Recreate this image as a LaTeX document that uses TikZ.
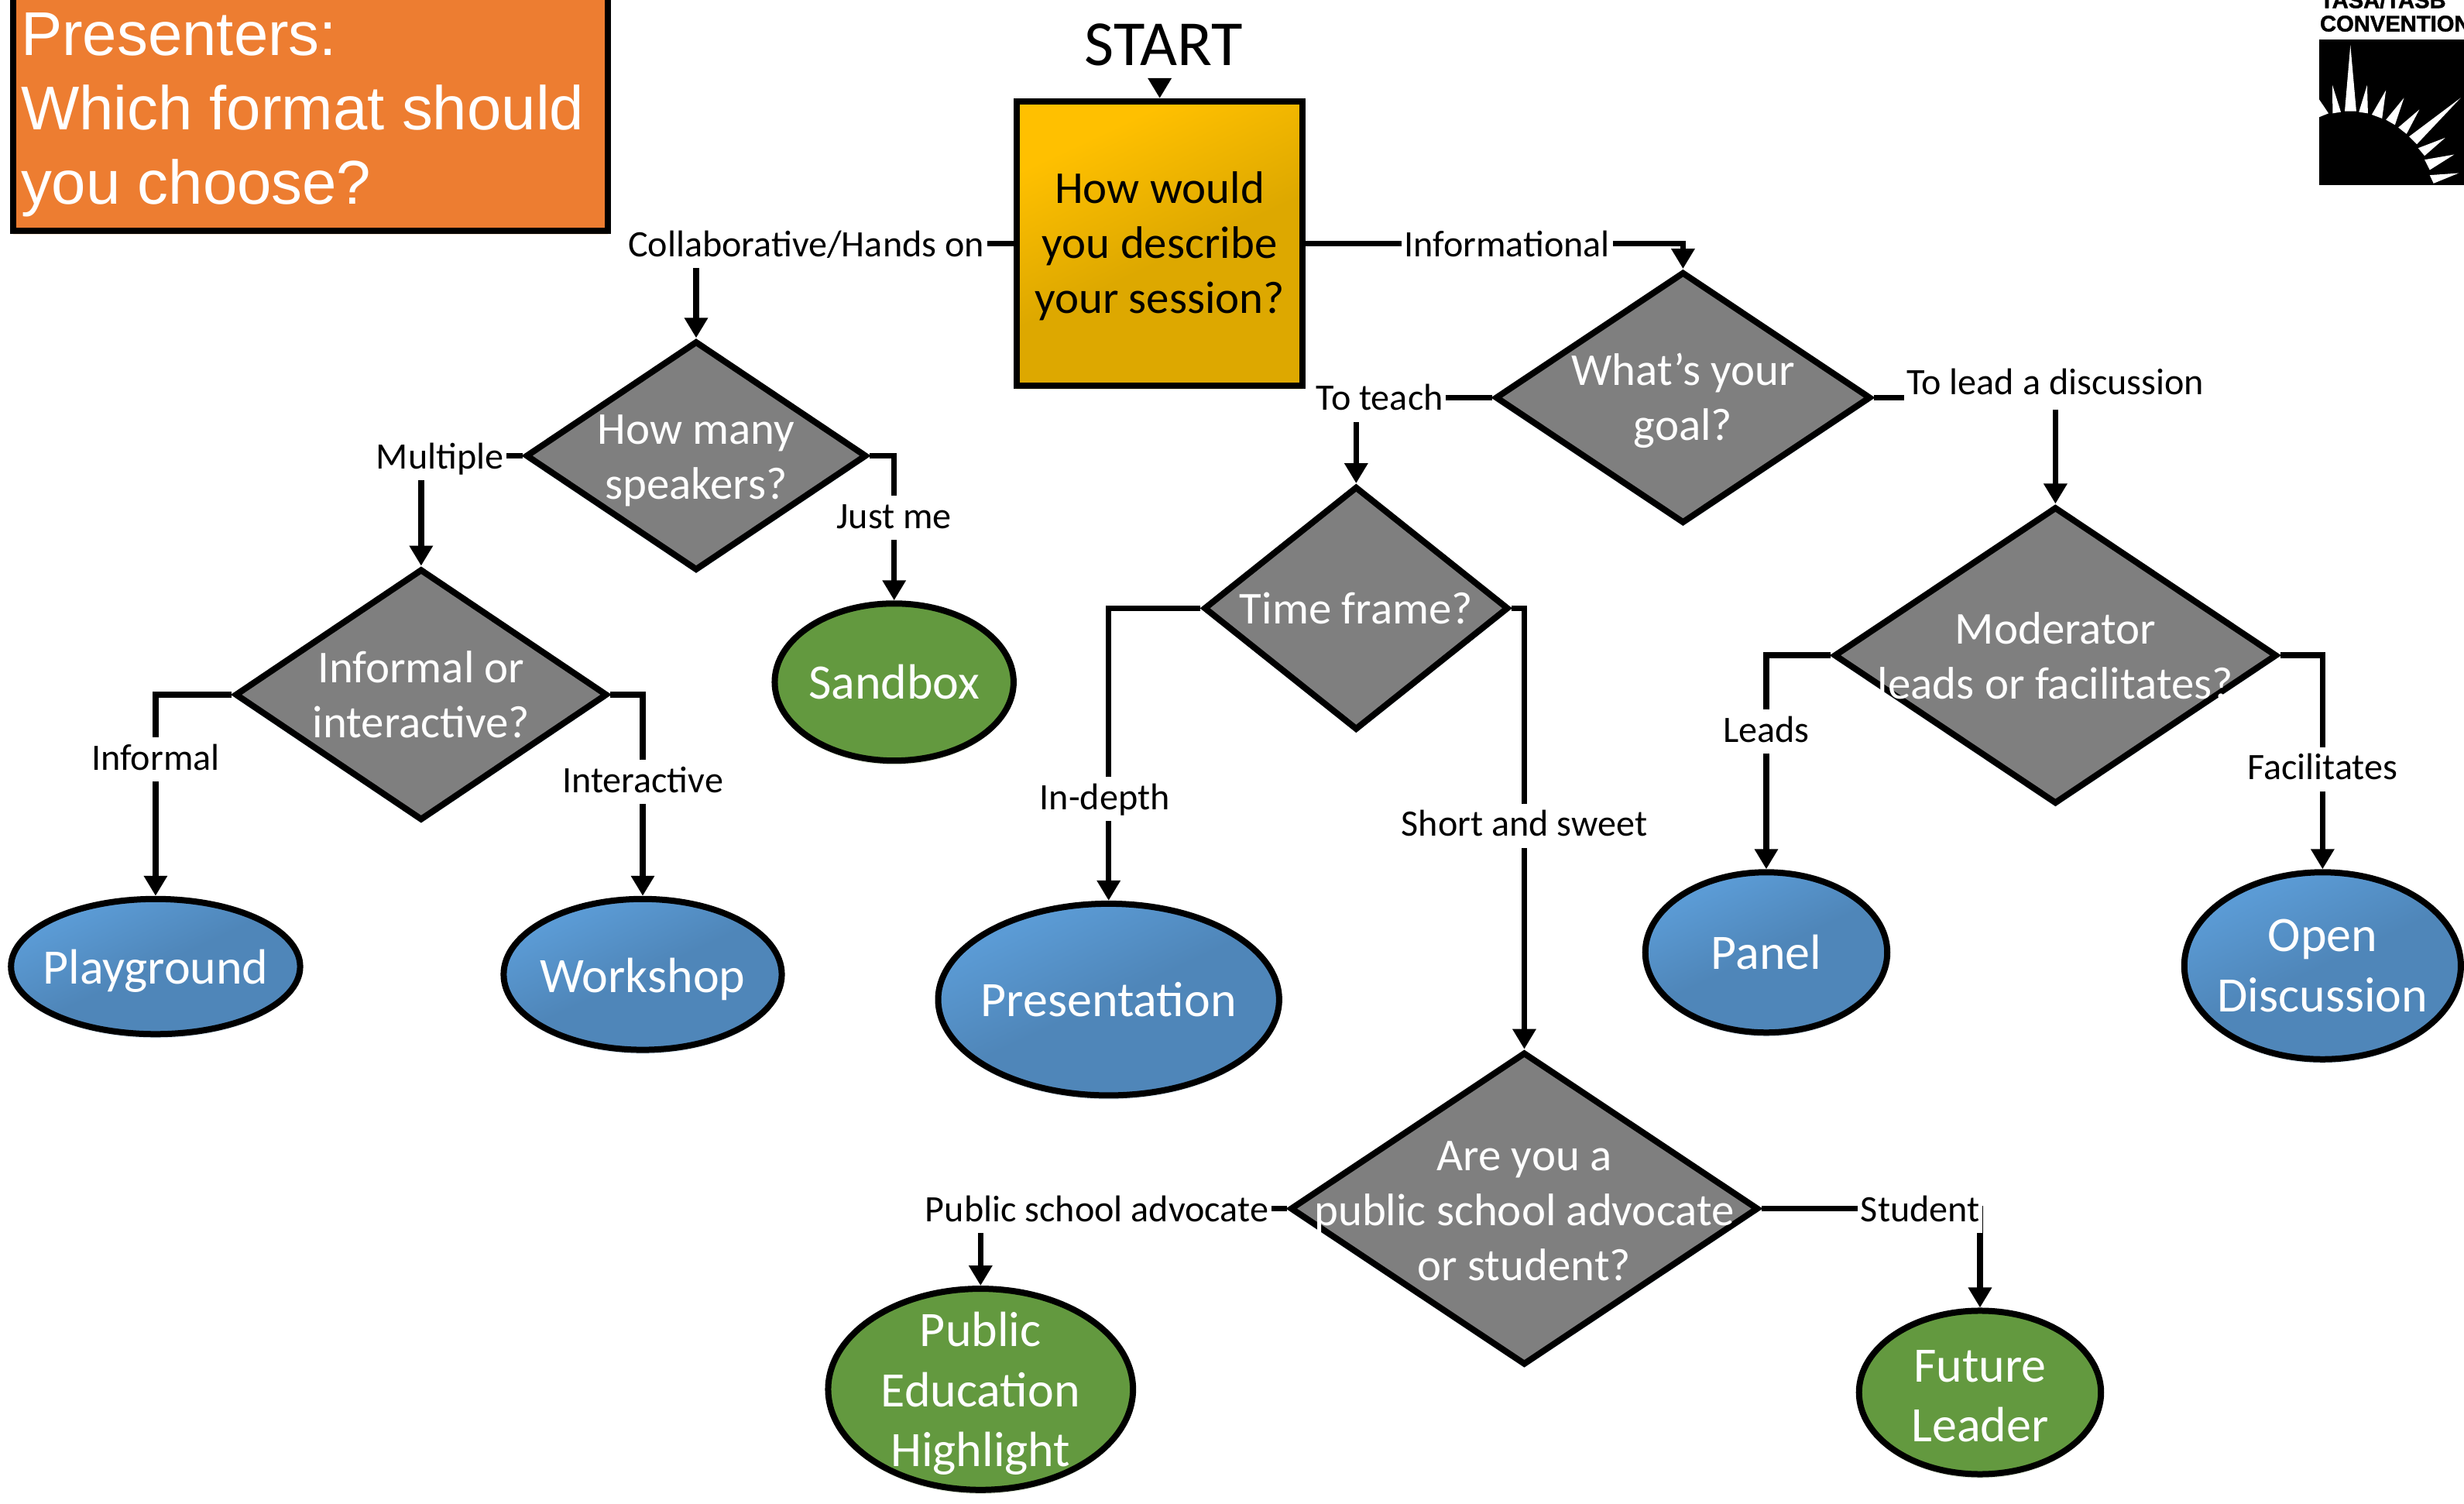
\documentclass[tikz,border=0pt]{standalone}
\usepackage{fontspec}
\setmainfont{Carlito}
\newfontfamily\arialfont{Liberation Sans}
\newfontfamily\logofont[FakeBold=1.5]{Liberation Sans Bold}
\usetikzlibrary{arrows.meta,shapes.geometric,shadows}
\definecolor{goldA}{HTML}{FFC000}
\definecolor{goldB}{HTML}{DDA800}
\definecolor{blueA}{HTML}{5B9BD5}
\definecolor{blueB}{HTML}{4F86B9}
\definecolor{greenA}{HTML}{63993F}
\definecolor{orangeA}{HTML}{ED7D31}
\definecolor{diagray}{HTML}{7F7F7F}
\pgfdeclareverticalshading{goldsh}{100bp}{color(0bp)=(goldB); color(47bp)=(goldB); color(72bp)=(goldA); color(100bp)=(goldA)}
\pgfdeclareverticalshading{bluesh}{100bp}{color(0bp)=(blueB); color(50bp)=(blueB); color(72bp)=(blueA); color(100bp)=(blueA)}
\tikzset{
  stroke/.style={draw=black,line width=0.08cm},
  softshadow/.style={drop shadow={shadow xshift=0pt,shadow yshift=-1.5pt,fill=#1,opacity=.2}},
  dia/.style={diamond,stroke,fill=diagray,inner sep=0pt,softshadow=blueA},
  dtext/.style={align=center,text=white,inner sep=0pt,font=\fontsize{16.75}{20.2}\selectfont},
  etext/.style={align=center,text=white,inner sep=0pt,font=\fontsize{18.2}{22}\selectfont},
  bluee/.style={ellipse,stroke,shade,shading=bluesh,shading angle=25,inner sep=0pt,softshadow=blueA},
  greene/.style={ellipse,stroke,fill=greenA,inner sep=0pt,softshadow=greenA},
  lbl/.style={fill=white,inner sep=1pt,yshift=-0.8pt,text height=11pt,text depth=3.2pt,font=\fontsize{13.7}{16}\selectfont},
  arr/.style={line width=0.075cm,-{Triangle[length=0.26cm,width=0.29cm]}}
}
\begin{document}
\begin{tikzpicture}[x=0.020293cm,y=-0.020293cm]
\clip (0,0) rectangle (1568,956.5);
\fill[white] (0,0) rectangle (1568,956.5);

% title
\node[rectangle,stroke,fill=orangeA,inner sep=0pt,minimum width=0.020293cm*378.5,minimum height=0.020293cm*170,softshadow=orangeA,anchor=south west] (title) at (6.3,148.8) {};
\node[anchor=base west,inner sep=0pt,text=white,align=left,font=\arialfont\fontsize{22.7}{27.3}\selectfont] (titletext) at (13,130) {Presenters:\\Which format should\\you choose?};

% start
\node[inner sep=0pt,font=\fontsize{23.6}{28}\selectfont] (startlbl) at (740.5,28.5) {START};
\coordinate (startin) at (738,50);
\node[rectangle,stroke,shade,shading=goldsh,shading angle=25,inner sep=0pt,minimum width=0.020293cm*182,minimum height=0.020293cm*181,softshadow=goldA,
  label={[yshift=-0.8pt,align=center,inner sep=0pt,font=\fontsize{16.75}{20.2}\selectfont]center:How would\\you describe\\your session?}] (startbox) at (738,155) {};

% diamonds
\node[dia,minimum width=0.020293cm*217,minimum height=0.020293cm*146,label={[dtext,yshift=-1.7pt]center:How many\\speakers?}] (d1) at (443,290) {};
\node[dia,minimum width=0.020293cm*237,minimum height=0.020293cm*160,label={[dtext]center:Informal or\\interactive?}] (d2) at (268,442) {};
\node[dia,minimum width=0.020293cm*239,minimum height=0.020293cm*160,label={[dtext,yshift=-1.2pt]center:What’s your\\goal?}] (d3) at (1071,253) {};
\node[dia,minimum width=0.020293cm*194,minimum height=0.020293cm*155,label={[dtext]center:Time frame?}] (d4) at (863,387) {};
\node[dia,minimum width=0.020293cm*282,minimum height=0.020293cm*189,label={[dtext,yshift=-0.2pt]center:Moderator\\leads or facilitates?}] (d5) at (1308,417) {};
\node[dia,minimum width=0.020293cm*298,minimum height=0.020293cm*199,label={[dtext,yshift=-0.8pt]center:Are you a\\public school advocate\\or student?}] (d6) at (970,769) {};

% ellipses
\node[greene,minimum width=0.020293cm*152,minimum height=0.020293cm*100,label={[etext]center:Sandbox}] (sandbox) at (569,434) {};
\node[bluee,minimum width=0.020293cm*184,minimum height=0.020293cm*86,label={[etext,yshift=-1.7pt]center:Playground}] (play) at (99,615) {};
\node[bluee,minimum width=0.020293cm*177,minimum height=0.020293cm*96,label={[etext,yshift=-1.7pt]center:Workshop}] (work) at (409,620) {};
\node[bluee,minimum width=0.020293cm*217,minimum height=0.020293cm*122,label={[etext]center:Presentation}] (pres) at (705.5,636) {};
\node[bluee,minimum width=0.020293cm*154,minimum height=0.020293cm*102,label={[etext]center:Panel}] (panel) at (1124,606) {};
\node[bluee,minimum width=0.020293cm*176,minimum height=0.020293cm*119,label={[etext]center:Open\\Discussion}] (open) at (1478,614.5) {};
\node[greene,minimum width=0.020293cm*194,minimum height=0.020293cm*128,label={[etext,yshift=-1.6pt]center:Public\\Education\\Highlight}] (pub) at (624,884) {};
\node[greene,minimum width=0.020293cm*154,minimum height=0.020293cm*104,label={[etext,yshift=-1.3pt]center:Future\\Leader}] (future) at (1260,886) {};

% connectors
\draw[arr] (startin) -- (startbox.north);
\draw[arr] (startbox.west) -| (d1.north);
\draw[arr] (startbox.east) -| (d3.north);
\draw[arr] (d1.west) -| (d2.north);
\draw[arr] (d1.east) -| (sandbox.north);
\draw[arr] (d2.west) -| (play.north);
\draw[arr] (d2.east) -| (work.north);
\draw[arr] (d3.west) -| (d4.north);
\draw[arr] (d3.east) -| (d5.north);
\draw[arr] (d4.west) -| (pres.north);
\draw[arr] (d4.east) -| (d6.north);
\draw[arr] (d5.west) -| (panel.north);
\draw[arr] (d5.east) -| (open.north);
\draw[arr] (d6.west) -| (pub.north);
\draw[arr] (d6.east) -| (future.north);

% connector labels
\node[lbl] (l1) at (513,155) {Collaborative/Hands on};
\node[lbl] (l2) at (959,155) {Informational};
\node[lbl] (l3) at (878,253) {To teach};
\node[lbl,text depth=4.6pt,yshift=-0.7pt] (l4) at (1308,243) {To lead a discussion};
\node[lbl] (l5) at (280,290) {Multiple};
\node[lbl] (l6) at (569,328) {Just me};
\node[lbl] (l7) at (99,482) {Informal};
\node[lbl] (l8) at (409,496) {Interactive};
\node[lbl] (l9) at (703,507) {In-depth};
\node[lbl] (l10) at (970,524) {Short and sweet};
\node[lbl] (l11) at (1124,464) {Leads};
\node[lbl] (l12) at (1478,488) {Facilitates};
\node[lbl] (l13) at (698,769) {Public school advocate};
\node[lbl] (l14) at (1222,769) {Student};

% logo
\node[anchor=base west,inner sep=0pt,align=left,font=\logofont\fontsize{8.3}{8.6}\selectfont] (logotext) at (1476,20) {TASA/TASB\\CONVENTION};
\begin{scope}[shift={(1429,0)},x=0.003333cm,y=-0.003333cm]
\fill[black] (285,152) rectangle (860,718);
\fill[white] (407,175) -- (385,432) -- (430,432) -- cycle;
\fill[white] (337,330) -- (338,440) -- (370,435) -- cycle;
\fill[white] (472,330) -- (440,435) -- (475,440) -- cycle;
\fill[white] (545,350) -- (490,445) -- (530,460) -- cycle;
\fill[white] (615,380) -- (545,465) -- (580,485) -- cycle;
\fill[white] (675,425) -- (593,495) -- (625,520) -- cycle;
\fill[white] (835,380) -- (635,530) -- (665,560) -- cycle;
\fill[white] (775,535) -- (670,575) -- (695,605) -- cycle;
\fill[white] (810,600) -- (695,620) -- (715,660) -- cycle;
\fill[white] (828,672) -- (715,680) -- (730,712) -- cycle;
\fill[white] (285,385) -- (322,440) -- (285,455) -- cycle;
\end{scope}
\end{tikzpicture}
\end{document}
